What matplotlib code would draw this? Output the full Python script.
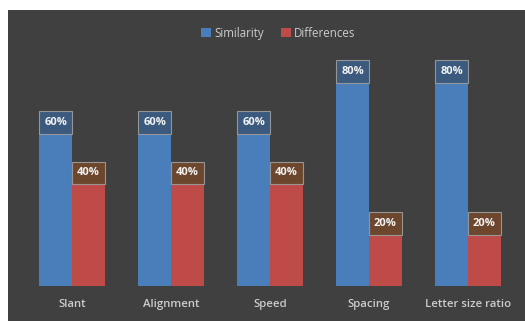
import matplotlib.pyplot as plt
import numpy as np
from matplotlib.patches import Rectangle, Patch

categories = ["Slant", "Alignment", "Speed", "Spacing", "Letter size ratio"]
similarity = [60, 60, 60, 80, 80]
differences = [40, 40, 40, 20, 20]
series_names = ["Similarity", "Differences"]

bg = "#404040"
blue = "#4a7ebb"
red = "#be4b48"
blue_box = "#3b5c82"
red_box = "#70482c"
text_col = "#cccccc"

plt.rcParams['font.family'] = ['Open Sans', 'DejaVu Sans']

fig = plt.figure(figsize=(5.25, 3.21), dpi=100, facecolor="white")
# dark panel, leaving a thin white margin at top and left
fig.patches.append(Rectangle((8 / 525, 0), 1, 1 - 10 / 321, transform=fig.transFigure,
                             facecolor=bg, edgecolor="none", zorder=-1))

ax = fig.add_axes([0.0429, 0.109, 0.9429, 0.7913])
ax.set_facecolor("none")

x = np.arange(len(categories))
w = 0.33
box_h = 9

for vals, col, boxcol, off in [(similarity, blue, blue_box, -w / 2),
                               (differences, red, red_box, w / 2)]:
    ax.bar(x + off, vals, width=w, color=col, edgecolor="none", zorder=2)
    # label boxes sitting on top of each bar
    ax.bar(x + off, [box_h] * len(vals), bottom=vals, width=w, color=boxcol,
           edgecolor="#9a9a9a", linewidth=0.8, alpha=0.95, zorder=3)
    for xi, v in zip(x + off, vals):
        ax.text(xi, v + box_h / 2, f"{v}%", ha="center", va="center",
                color="#f2f2f2", fontsize=8, fontweight="bold", zorder=4)

ax.set_xlim(-0.5, len(categories) - 0.5)
ax.set_ylim(0, 100)
ax.set_xticks(x)
ax.set_xticklabels(categories, color=text_col, fontsize=8.2, fontweight="semibold")
ax.tick_params(axis="x", length=0, pad=9)
ax.set_yticks([])
for s in ax.spines.values():
    s.set_visible(False)

handles = [Patch(facecolor=blue, label=series_names[0]),
           Patch(facecolor=red, label=series_names[1])]
fig.legend(handles=handles, loc="center", bbox_to_anchor=(0.53, 0.897), ncol=2,
           frameon=False, fontsize=8.3, labelcolor=text_col,
           handlelength=0.85, handleheight=0.85, handletextpad=0.3, columnspacing=1.5)

fig.savefig("out.png", dpi=100, facecolor=fig.get_facecolor())
